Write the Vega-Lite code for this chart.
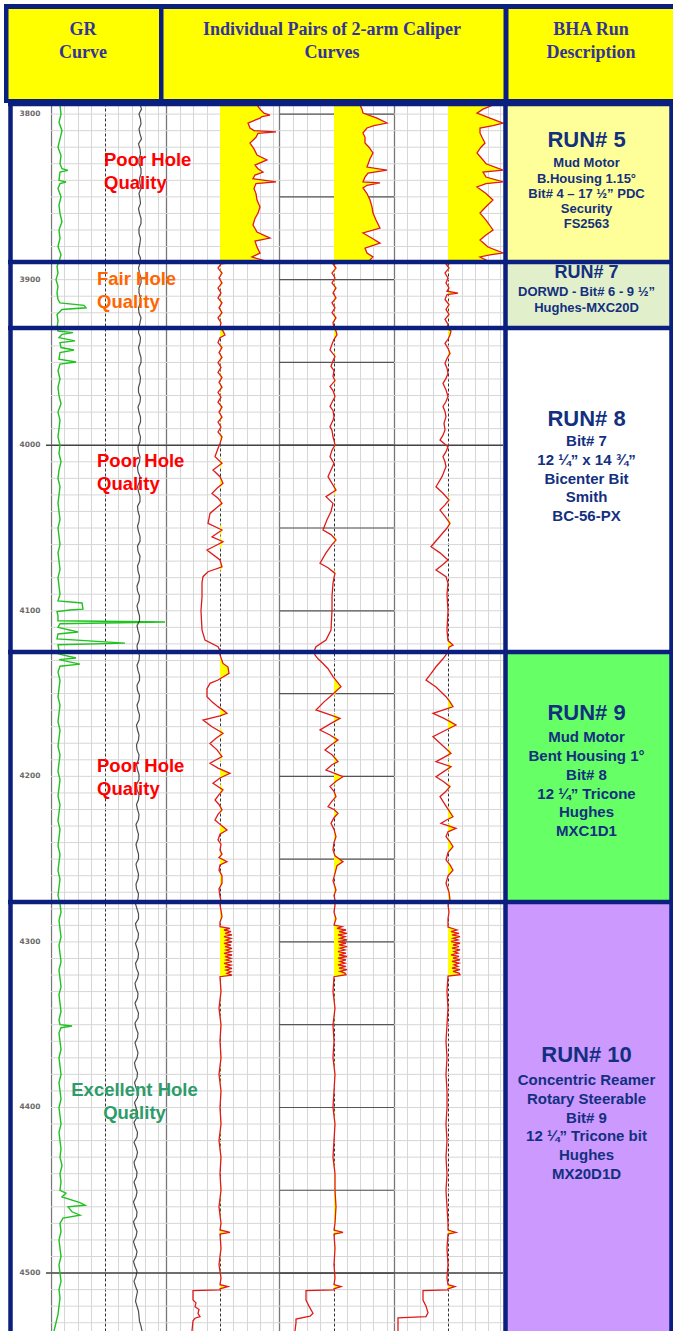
{
  "$schema": "https://vega.github.io/schema/vega-lite/v6.json",
  "padding": 0,
  "spacing": 0,
  "bounds": "flush",
  "background": "#ffffff",
  "config": {"view": {"stroke": null}},
  "datasets": {
    "runs": [
      {"run": "RUN# 5", "top": 3793.3, "bot": 3889.3, "td": 3815.7, "dd": 3829.7, "info": "Mud Motor\nB.Housing 1.15°\nBit# 4 – 17 ½” PDC\nSecurity\nFS2563"},
      {"run": "RUN# 7", "top": 3889.3, "bot": 3929.2, "td": 3895.8, "dd": 3907.7, "info": "DORWD - Bit# 6 - 9 ½”\nHughes-MXC20D"},
      {"run": "RUN# 8", "top": 3929.2, "bot": 4124.9, "td": 3983.9, "dd": 3997.5, "info": "Bit# 7\n12 ¼” x 14 ¾”\nBicenter Bit\nSmith\nBC-56-PX"},
      {"run": "RUN# 9", "top": 4124.9, "bot": 4275.9, "td": 4161.7, "dd": 4176.4, "info": "Mud Motor\nBent Housing 1°\nBit# 8\n12 ¼” Tricone\nHughes\nMXC1D1"},
      {"run": "RUN# 10", "top": 4275.9, "bot": 4535, "td": 4368.3, "dd": 4383.4, "info": "Concentric Reamer\nRotary Steerable\nBit# 9\n12 ¼” Tricone bit\nHughes\nMX20D1D"}
    ],
    "quality": [
      {"run": 5, "q": "Poor", "label": "Poor Hole\nQuality", "d": 3827.7},
      {"run": 7, "q": "Fair", "label": "Fair Hole\nQuality", "d": 3899.6},
      {"run": 8, "q": "Poor", "label": "Poor Hole\nQuality", "d": 4009.5},
      {"run": 9, "q": "Poor", "label": "Poor Hole\nQuality", "d": 4193.8},
      {"run": 10, "q": "Excellent", "label": "Excellent Hole\nQuality", "d": 4389.5}
    ],
    "depths": [{"d": 3800}, {"d": 3900}, {"d": 4000}, {"d": 4100}, {"d": 4200}, {"d": 4300}, {"d": 4400}, {"d": 4500}],
    "ten": [{"d":3800},{"d":3810},{"d":3820},{"d":3830},{"d":3840},{"d":3850},{"d":3860},{"d":3870},{"d":3880},{"d":3890},{"d":3900},{"d":3910},{"d":3920},{"d":3930},{"d":3940},{"d":3950},{"d":3960},{"d":3970},{"d":3980},{"d":3990},{"d":4000},{"d":4010},{"d":4020},{"d":4030},{"d":4040},{"d":4050},{"d":4060},{"d":4070},{"d":4080},{"d":4090},{"d":4100},{"d":4110},{"d":4120},{"d":4130},{"d":4140},{"d":4150},{"d":4160},{"d":4170},{"d":4180},{"d":4190},{"d":4200},{"d":4210},{"d":4220},{"d":4230},{"d":4240},{"d":4250},{"d":4260},{"d":4270},{"d":4280},{"d":4290},{"d":4300},{"d":4310},{"d":4320},{"d":4330},{"d":4340},{"d":4350},{"d":4360},{"d":4370},{"d":4380},{"d":4390},{"d":4400},{"d":4410},{"d":4420},{"d":4430},{"d":4440},{"d":4450},{"d":4460},{"d":4470},{"d":4480},{"d":4490},{"d":4500},{"d":4510},{"d":4520},{"d":4530}],
    "fifty": [{"d": 3800}, {"d": 3850}, {"d": 3900}, {"d": 3950}, {"d": 4000}, {"d": 4050}, {"d": 4100}, {"d": 4150}, {"d": 4200}, {"d": 4250}, {"d": 4300}, {"d": 4350}, {"d": 4400}, {"d": 4450}, {"d": 4500}],
    "heavy": [{"d": 4000}, {"d": 4500}],
    "breaks": [{"d": 3793.9}, {"d": 3889.3}, {"d": 3929.2}, {"d": 4124.9}, {"d": 4275.9}],
    "gr": [
      {"d":3793.5,"g":26},{"d":3794.5,"g":9},{"d":3800,"g":10},{"d":3805,"g":8},{"d":3810,"g":11},{"d":3815,"g":9},{"d":3820,"g":7},{"d":3825,"g":10},{"d":3830,"g":9},{"d":3833,"g":11},{"d":3834,"g":17},{"d":3835,"g":9},{"d":3840,"g":8},{"d":3841,"g":15},{"d":3842,"g":9},{"d":3845,"g":7},{"d":3850,"g":10},{"d":3855,"g":8},{"d":3860,"g":9},{"d":3865,"g":11},{"d":3870,"g":8},{"d":3875,"g":9},{"d":3880,"g":7},{"d":3885,"g":10},{"d":3889,"g":8},
      {"d":3892,"g":6},{"d":3896,"g":7},{"d":3900,"g":5},{"d":3904,"g":7},{"d":3908,"g":6},{"d":3912,"g":7},{"d":3914,"g":9},{"d":3915.5,"g":33},{"d":3917,"g":35},{"d":3918,"g":11},{"d":3921,"g":6},{"d":3925,"g":7},{"d":3929,"g":6},{"d":3931,"g":7},{"d":3932,"g":22},{"d":3933,"g":11},
      {"d":3935,"g":8},{"d":3937,"g":24},{"d":3938,"g":9},{"d":3941,"g":10},{"d":3942.5,"g":23},{"d":3944,"g":9},{"d":3948,"g":8},{"d":3949.7,"g":25},{"d":3951,"g":9},{"d":3955,"g":7},{"d":3960,"g":9},{"d":3965,"g":7},{"d":3970,"g":8},{"d":3975,"g":10},{"d":3980,"g":7},{"d":3985,"g":9},{"d":3990,"g":8},{"d":3995,"g":7},{"d":4000,"g":9},{"d":4005,"g":8},{"d":4010,"g":10},{"d":4015,"g":8},{"d":4020,"g":7},{"d":4025,"g":9},{"d":4030,"g":8},{"d":4035,"g":7},{"d":4040,"g":8},{"d":4045,"g":9},{"d":4050,"g":7},{"d":4055,"g":8},{"d":4060,"g":9},{"d":4065,"g":7},{"d":4070,"g":8},{"d":4075,"g":9},{"d":4080,"g":7},{"d":4085,"g":8},{"d":4090,"g":9},{"d":4094,"g":7},{"d":4095.3,"g":31},{"d":4099,"g":32},{"d":4099.5,"g":19},{"d":4100.5,"g":6},{"d":4103,"g":7},{"d":4106,"g":7},{"d":4106.8,"g":114},{"d":4107.8,"g":9},{"d":4110,"g":7},{"d":4112.8,"g":27},{"d":4114,"g":7},{"d":4117,"g":6},{"d":4119.5,"g":74},{"d":4120.5,"g":7},{"d":4124,"g":8},
      {"d":4126,"g":7},{"d":4128.5,"g":25},{"d":4129.5,"g":8},{"d":4132.2,"g":29},{"d":4133.5,"g":9},{"d":4137,"g":7},{"d":4142,"g":9},{"d":4147,"g":8},{"d":4152,"g":7},{"d":4157,"g":9},{"d":4162,"g":8},{"d":4167,"g":7},{"d":4172,"g":9},{"d":4177,"g":8},{"d":4182,"g":7},{"d":4187,"g":9},{"d":4192,"g":8},{"d":4197,"g":7},{"d":4202,"g":9},{"d":4207,"g":8},{"d":4212,"g":7},{"d":4217,"g":9},{"d":4222,"g":8},{"d":4227,"g":7},{"d":4232,"g":9},{"d":4237,"g":8},{"d":4242,"g":7},{"d":4247,"g":9},{"d":4252,"g":8},{"d":4257,"g":7},{"d":4262,"g":9},{"d":4267,"g":8},{"d":4272,"g":7},
      {"d":4277,"g":9},{"d":4282,"g":10},{"d":4287,"g":8},{"d":4292,"g":9},{"d":4297,"g":10},{"d":4302,"g":8},{"d":4307,"g":9},{"d":4312,"g":10},{"d":4317,"g":8},{"d":4322,"g":9},{"d":4327,"g":10},{"d":4332,"g":8},{"d":4337,"g":9},{"d":4342,"g":10},{"d":4347,"g":8},{"d":4350,"g":9},{"d":4350.8,"g":21},{"d":4351.8,"g":10},{"d":4355,"g":8},{"d":4360,"g":9},{"d":4365,"g":10},{"d":4370,"g":8},{"d":4375,"g":9},{"d":4380,"g":10},{"d":4385,"g":8},{"d":4390,"g":9},{"d":4395,"g":10},{"d":4400,"g":8},{"d":4405,"g":9},{"d":4410,"g":10},{"d":4415,"g":8},{"d":4420,"g":9},{"d":4425,"g":10},{"d":4430,"g":9},{"d":4435,"g":11},{"d":4440,"g":9},{"d":4445,"g":10},{"d":4450,"g":9},{"d":4451.7,"g":15},{"d":4454,"g":11},{"d":4457.5,"g":29},{"d":4459,"g":34},{"d":4460,"g":17},{"d":4463,"g":21},{"d":4465,"g":29},{"d":4466.8,"g":12},{"d":4470,"g":9},{"d":4475,"g":10},{"d":4480,"g":8},{"d":4485,"g":9},{"d":4490,"g":10},{"d":4495,"g":8},{"d":4500,"g":9},{"d":4505,"g":10},{"d":4510,"g":8},{"d":4515,"g":9},{"d":4520,"g":8},{"d":4525,"g":7},{"d":4530,"g":5},{"d":4535,"g":3}
    ],
    "aux": [
      {"d":3794,"v":89},{"d":3797,"v":90.5},{"d":3800,"v":88},{"d":3803,"v":89.5},{"d":3806,"v":90},{"d":3809,"v":88},{"d":3812,"v":89},{"d":3815,"v":90.5},{"d":3818,"v":87.5},{"d":3821,"v":89},{"d":3824,"v":89.5},{"d":3827,"v":88},{"d":3830,"v":88},{"d":3833,"v":90},{"d":3836,"v":90},{"d":3839,"v":88.5},{"d":3842,"v":89},{"d":3845,"v":90},{"d":3848,"v":88},{"d":3851,"v":89},{"d":3854,"v":89.5},{"d":3857,"v":87.5},{"d":3860,"v":88.5},{"d":3863,"v":90},{"d":3866,"v":90},{"d":3869,"v":88},{"d":3872,"v":88},{"d":3875,"v":89.5},{"d":3878,"v":89},{"d":3881,"v":88},{"d":3884,"v":87.5},{"d":3887,"v":89.5},{"d":3890,"v":89},{"d":3893,"v":87.5},{"d":3896,"v":88.5},{"d":3899,"v":90},{"d":3902,"v":90},{"d":3905,"v":88},{"d":3908,"v":88},{"d":3911,"v":89.5},{"d":3914,"v":89.5},{"d":3917,"v":87.5},{"d":3920,"v":88},{"d":3923,"v":90},{"d":3926,"v":89},{"d":3929,"v":88},{"d":3932,"v":87.5},{"d":3935,"v":89.5},{"d":3938,"v":89},{"d":3941,"v":87.5},{"d":3944,"v":88.5},{"d":3947,"v":90},{"d":3950,"v":90},{"d":3953,"v":88},{"d":3956,"v":88},{"d":3959,"v":89.5},{"d":3962,"v":89},{"d":3965,"v":87.5},{"d":3968,"v":87.5},{"d":3971,"v":89.5},{"d":3974,"v":89},{"d":3977,"v":87},{"d":3980,"v":88},{"d":3983,"v":89.5},{"d":3986,"v":89.5},{"d":3989,"v":87.5},{"d":3992,"v":88},{"d":3995,"v":89.5},{"d":3998,"v":89},{"d":4001,"v":87},{"d":4004,"v":87.5},{"d":4007,"v":89},{"d":4010,"v":88.5},{"d":4013,"v":86.5},{"d":4016,"v":87},{"d":4019,"v":89},{"d":4022,"v":88.5},{"d":4025,"v":86.5},{"d":4028,"v":87.5},{"d":4031,"v":89},{"d":4034,"v":89},{"d":4037,"v":86.5},{"d":4040,"v":87},{"d":4043,"v":88.5},{"d":4046,"v":88},{"d":4049,"v":86.5},{"d":4052,"v":87.5},{"d":4055,"v":89},{"d":4058,"v":89},{"d":4061,"v":86.5},{"d":4064,"v":87},{"d":4067,"v":89},{"d":4070,"v":88.5},{"d":4073,"v":86.5},{"d":4076,"v":87},{"d":4079,"v":88.5},{"d":4082,"v":88},{"d":4085,"v":86},{"d":4088,"v":86.5},{"d":4091,"v":88.5},{"d":4094,"v":88},{"d":4097,"v":86},{"d":4100,"v":87},{"d":4103,"v":88.5},{"d":4106,"v":88.5},{"d":4109,"v":86},{"d":4112,"v":87},{"d":4115,"v":88.5},{"d":4118,"v":88},{"d":4121,"v":86},{"d":4124,"v":86.5},{"d":4127,"v":88.5},{"d":4130,"v":88},{"d":4133,"v":86},{"d":4136,"v":87},{"d":4139,"v":88.5},{"d":4142,"v":88.5},{"d":4145,"v":86},{"d":4148,"v":86.5},{"d":4151,"v":88.5},{"d":4154,"v":88},{"d":4157,"v":86},{"d":4160,"v":87},{"d":4163,"v":88.5},{"d":4166,"v":88},{"d":4169,"v":85.5},{"d":4172,"v":86.5},{"d":4175,"v":88},{"d":4178,"v":87.5},{"d":4181,"v":85.5},{"d":4184,"v":86},{"d":4187,"v":88},{"d":4190,"v":87.5},{"d":4193,"v":85.5},{"d":4196,"v":86.5},{"d":4199,"v":88},{"d":4202,"v":88},{"d":4205,"v":85.5},{"d":4208,"v":86},{"d":4211,"v":88},{"d":4214,"v":87.5},{"d":4217,"v":85.5},{"d":4220,"v":86.5},{"d":4223,"v":88},{"d":4226,"v":87.5},{"d":4229,"v":85},{"d":4232,"v":86},{"d":4235,"v":87.5},{"d":4238,"v":87},{"d":4241,"v":85},{"d":4244,"v":86},{"d":4247,"v":87.5},{"d":4250,"v":87.5},{"d":4253,"v":85},{"d":4256,"v":86},{"d":4259,"v":87.5},{"d":4262,"v":87},{"d":4265,"v":85},{"d":4268,"v":85.5},{"d":4271,"v":87.5},{"d":4274,"v":87},{"d":4277,"v":84.5},{"d":4280,"v":86},{"d":4283,"v":87.5},{"d":4286,"v":87.5},{"d":4289,"v":84.5},{"d":4292,"v":85.5},{"d":4295,"v":87.5},{"d":4298,"v":87},{"d":4301,"v":84.5},{"d":4304,"v":86},{"d":4307,"v":87.5},{"d":4310,"v":87},{"d":4313,"v":84.5},{"d":4316,"v":85.5},{"d":4319,"v":87.5},{"d":4322,"v":86.5},{"d":4325,"v":84},{"d":4328,"v":85},{"d":4331,"v":87},{"d":4334,"v":86.5},{"d":4337,"v":84},{"d":4340,"v":85.5},{"d":4343,"v":87.5},{"d":4346,"v":87},{"d":4349,"v":84},{"d":4352,"v":85},{"d":4355,"v":87},{"d":4358,"v":86.5},{"d":4361,"v":84},{"d":4364,"v":85.5},{"d":4367,"v":87},{"d":4370,"v":86},{"d":4373,"v":83.5},{"d":4376,"v":84.5},{"d":4379,"v":86.5},{"d":4382,"v":86},{"d":4385,"v":83.5},{"d":4388,"v":85},{"d":4391,"v":87},{"d":4394,"v":86.5},{"d":4397,"v":83.5},{"d":4400,"v":85},{"d":4403,"v":86.5},{"d":4406,"v":86},{"d":4409,"v":83},{"d":4412,"v":84.5},{"d":4415,"v":86.5},{"d":4418,"v":86},{"d":4421,"v":83},{"d":4424,"v":85},{"d":4427,"v":86.5},{"d":4430,"v":85.5},{"d":4433,"v":83},{"d":4436,"v":84},{"d":4439,"v":86},{"d":4442,"v":85.5},{"d":4445,"v":83},{"d":4448,"v":84.5},{"d":4451,"v":86},{"d":4454,"v":85},{"d":4457,"v":82.5},{"d":4460,"v":84},{"d":4463,"v":86},{"d":4466,"v":85.5},{"d":4469,"v":82.5},{"d":4472,"v":84},{"d":4475,"v":86},{"d":4478,"v":85},{"d":4481,"v":82.5},{"d":4484,"v":84},{"d":4487,"v":86},{"d":4490,"v":85},{"d":4493,"v":82.5},{"d":4496,"v":84},{"d":4499,"v":86},{"d":4502,"v":85},{"d":4505,"v":83},{"d":4508,"v":84.5},{"d":4511,"v":86.5},{"d":4514,"v":85.5},{"d":4517,"v":84.5},{"d":4520,"v":86},{"d":4523,"v":87.5},{"d":4526,"v":88},{"d":4529,"v":88.5},{"d":4532,"v":90},{"d":4535,"v":91}
    ],
    "cal": [
      {"t":1,"d":3793.3,"c":37},{"t":1,"d":3794.5,"c":37},{"t":1,"d":3797,"c":40},{"t":1,"d":3799.4,"c":44},{"t":1,"d":3800.6,"c":50},{"t":1,"d":3801.5,"c":42},{"t":1,"d":3802.4,"c":40},{"t":1,"d":3805.4,"c":28},{"t":1,"d":3808.4,"c":30},{"t":1,"d":3810,"c":34},{"t":1,"d":3810.8,"c":56},{"t":1,"d":3811.6,"c":38},{"t":1,"d":3814,"c":36},{"t":1,"d":3817.5,"c":30},{"t":1,"d":3821,"c":34},{"t":1,"d":3824.7,"c":37},{"t":1,"d":3827.7,"c":47},{"t":1,"d":3830.8,"c":35},{"t":1,"d":3833,"c":38},{"t":1,"d":3835,"c":43},{"t":1,"d":3836.8,"c":35},{"t":1,"d":3839,"c":33},{"t":1,"d":3841,"c":56},{"t":1,"d":3842,"c":36},{"t":1,"d":3845,"c":34},{"t":1,"d":3848,"c":36},{"t":1,"d":3851.9,"c":37},{"t":1,"d":3856.1,"c":40},{"t":1,"d":3859.8,"c":38},{"t":1,"d":3863,"c":35},{"t":1,"d":3867,"c":33},{"t":1,"d":3871.2,"c":37},{"t":1,"d":3874.9,"c":50},{"t":1,"d":3876.7,"c":35},{"t":1,"d":3880.3,"c":37},{"t":1,"d":3884,"c":40},{"t":1,"d":3886.3,"c":32},{"t":1,"d":3888.7,"c":45},{"t":1,"d":3889.3,"c":20},
      {"t":1,"d":3890.5,"c":1},{"t":1,"d":3893,"c":-2},{"t":1,"d":3896,"c":2},{"t":1,"d":3899,"c":-1},{"t":1,"d":3902,"c":2},{"t":1,"d":3905,"c":-2},{"t":1,"d":3908,"c":1},{"t":1,"d":3911,"c":-2},{"t":1,"d":3914,"c":2},{"t":1,"d":3917,"c":-1},{"t":1,"d":3920,"c":2},{"t":1,"d":3923,"c":-2},{"t":1,"d":3926,"c":1},{"t":1,"d":3929,"c":0},
      {"t":1,"d":3931,"c":3},{"t":1,"d":3933.4,"c":5},{"t":1,"d":3935,"c":0},{"t":1,"d":3938,"c":-2},{"t":1,"d":3941,"c":2},{"t":1,"d":3944,"c":-1},{"t":1,"d":3947,"c":2},{"t":1,"d":3950,"c":-2},{"t":1,"d":3953,"c":1},{"t":1,"d":3956,"c":-2},{"t":1,"d":3959,"c":2},{"t":1,"d":3962,"c":-1},{"t":1,"d":3965,"c":2},{"t":1,"d":3968,"c":-2},{"t":1,"d":3971,"c":1},{"t":1,"d":3974,"c":-2},{"t":1,"d":3977,"c":2},{"t":1,"d":3980,"c":-1},{"t":1,"d":3983,"c":2},{"t":1,"d":3986,"c":-2},{"t":1,"d":3989,"c":1},{"t":1,"d":3992,"c":-2},{"t":1,"d":3995,"c":2},{"t":1,"d":3998.9,"c":0},{"t":1,"d":4002,"c":-2},{"t":1,"d":4006.9,"c":-5},{"t":1,"d":4010.9,"c":2},{"t":1,"d":4015,"c":-7},{"t":1,"d":4019,"c":0},{"t":1,"d":4023,"c":3},{"t":1,"d":4026,"c":-3},{"t":1,"d":4029.1,"c":-8},{"t":1,"d":4032,"c":-2},{"t":1,"d":4035.1,"c":2},{"t":1,"d":4038,"c":-4},{"t":1,"d":4041.2,"c":-10},{"t":1,"d":4047.2,"c":-12},{"t":1,"d":4051.2,"c":2},{"t":1,"d":4055.3,"c":-8},{"t":1,"d":4058.3,"c":3},{"t":1,"d":4063.3,"c":-13},{"t":1,"d":4069.3,"c":0},{"t":1,"d":4073.4,"c":2},{"t":1,"d":4076.4,"c":-12},{"t":1,"d":4079.4,"c":-17},{"t":1,"d":4083,"c":-18},{"t":1,"d":4091.5,"c":-18},{"t":1,"d":4100,"c":-19},{"t":1,"d":4111.6,"c":-18},{"t":1,"d":4117.7,"c":-15},{"t":1,"d":4121.7,"c":-2},{"t":1,"d":4124,"c":0},
      {"t":1,"d":4126.7,"c":0},{"t":1,"d":4131.8,"c":3},{"t":1,"d":4134,"c":8},{"t":1,"d":4137.8,"c":9},{"t":1,"d":4140,"c":3},{"t":1,"d":4141.8,"c":-2},{"t":1,"d":4143.8,"c":-10},{"t":1,"d":4147,"c":-13},{"t":1,"d":4151.9,"c":-13},{"t":1,"d":4155,"c":-8},{"t":1,"d":4157.9,"c":-2},{"t":1,"d":4160,"c":3},{"t":1,"d":4161.9,"c":7},{"t":1,"d":4163.5,"c":0},{"t":1,"d":4166,"c":-17},{"t":1,"d":4170,"c":-8},{"t":1,"d":4174,"c":3},{"t":1,"d":4177,"c":-4},{"t":1,"d":4180.1,"c":-10},{"t":1,"d":4184,"c":-3},{"t":1,"d":4188.1,"c":2},{"t":1,"d":4192.1,"c":-10},{"t":1,"d":4195,"c":-2},{"t":1,"d":4198.2,"c":10},{"t":1,"d":4201,"c":0},{"t":1,"d":4204.2,"c":-7},{"t":1,"d":4208.2,"c":3},{"t":1,"d":4211,"c":-1},{"t":1,"d":4214.3,"c":-5},{"t":1,"d":4217,"c":-1},{"t":1,"d":4220.3,"c":2},{"t":1,"d":4223,"c":-2},{"t":1,"d":4226.4,"c":-5},{"t":1,"d":4229,"c":0},{"t":1,"d":4232.4,"c":7},{"t":1,"d":4235,"c":0},{"t":1,"d":4238.4,"c":-2},{"t":1,"d":4241,"c":1},{"t":1,"d":4244.5,"c":0},{"t":1,"d":4247,"c":2},{"t":1,"d":4249,"c":-1},{"t":1,"d":4251.5,"c":7},{"t":1,"d":4253.5,"c":0},{"t":1,"d":4256.6,"c":-1},{"t":1,"d":4260,"c":2},{"t":1,"d":4264.6,"c":2},{"t":1,"d":4268,"c":-1},{"t":1,"d":4272.7,"c":0},{"t":1,"d":4275,"c":1},
      {"t":1,"d":4277.7,"c":0},{"t":1,"d":4281,"c":1},{"t":1,"d":4284.8,"c":2},{"t":1,"d":4288,"c":0},{"t":1,"d":4290.8,"c":0},{"t":1,"d":4291.8,"c":10},{"t":1,"d":4292.8,"c":4},{"t":1,"d":4293.8,"c":11},{"t":1,"d":4294.8,"c":5},{"t":1,"d":4295.8,"c":12},{"t":1,"d":4296.8,"c":4},{"t":1,"d":4297.9,"c":11},{"t":1,"d":4298.9,"c":6},{"t":1,"d":4299.9,"c":12},{"t":1,"d":4300.9,"c":4},{"t":1,"d":4301.9,"c":11},{"t":1,"d":4302.9,"c":5},{"t":1,"d":4303.9,"c":12},{"t":1,"d":4304.9,"c":6},{"t":1,"d":4305.9,"c":11},{"t":1,"d":4306.9,"c":4},{"t":1,"d":4307.9,"c":12},{"t":1,"d":4308.9,"c":5},{"t":1,"d":4309.9,"c":11},{"t":1,"d":4310.9,"c":6},{"t":1,"d":4311.9,"c":12},{"t":1,"d":4312.9,"c":4},{"t":1,"d":4314,"c":11},{"t":1,"d":4315,"c":5},{"t":1,"d":4316,"c":12},{"t":1,"d":4317,"c":6},{"t":1,"d":4318,"c":11},{"t":1,"d":4319,"c":7},{"t":1,"d":4320,"c":12},{"t":1,"d":4321,"c":0},{"t":1,"d":4330,"c":1},{"t":1,"d":4340,"c":-1},{"t":1,"d":4350,"c":1},{"t":1,"d":4360,"c":0},{"t":1,"d":4370,"c":1},{"t":1,"d":4380,"c":-1},{"t":1,"d":4390,"c":1},{"t":1,"d":4400,"c":0},{"t":1,"d":4410,"c":1},{"t":1,"d":4420,"c":-1},{"t":1,"d":4430,"c":1},{"t":1,"d":4440,"c":0},{"t":1,"d":4450,"c":1},{"t":1,"d":4460,"c":-1},{"t":1,"d":4470,"c":1},{"t":1,"d":4474,"c":0},{"t":1,"d":4475.4,"c":10},{"t":1,"d":4476.5,"c":0},{"t":1,"d":4485,"c":1},{"t":1,"d":4495,"c":-1},{"t":1,"d":4503,"c":1},{"t":1,"d":4507,"c":0},{"t":1,"d":4508.2,"c":8},{"t":1,"d":4509.5,"c":0},{"t":1,"d":4510.2,"c":0},{"t":1,"d":4510.6,"c":-27},{"t":1,"d":4513,"c":-27},{"t":1,"d":4516.3,"c":-27},{"t":1,"d":4518,"c":-24},{"t":1,"d":4520.3,"c":-25},{"t":1,"d":4522,"c":-21},{"t":1,"d":4524.3,"c":-22},{"t":1,"d":4526.3,"c":-20},{"t":1,"d":4527.3,"c":-25},{"t":1,"d":4528.8,"c":-27},{"t":1,"d":4535,"c":-28},

      {"t":2,"d":3793.3,"c":26},{"t":2,"d":3794.5,"c":26},{"t":2,"d":3797,"c":28},{"t":2,"d":3799.4,"c":29},{"t":2,"d":3802.4,"c":43},{"t":2,"d":3805.4,"c":53},{"t":2,"d":3807,"c":40},{"t":2,"d":3808.4,"c":33},{"t":2,"d":3811.4,"c":29},{"t":2,"d":3814,"c":31},{"t":2,"d":3817.5,"c":31},{"t":2,"d":3820,"c":35},{"t":2,"d":3823.5,"c":39},{"t":2,"d":3827,"c":36},{"t":2,"d":3832,"c":33},{"t":2,"d":3833.8,"c":53},{"t":2,"d":3835.6,"c":34},{"t":2,"d":3838,"c":31},{"t":2,"d":3841,"c":29},{"t":2,"d":3841.6,"c":46},{"t":2,"d":3843,"c":33},{"t":2,"d":3844.6,"c":29},{"t":2,"d":3848,"c":33},{"t":2,"d":3851.9,"c":36},{"t":2,"d":3856,"c":38},{"t":2,"d":3859.8,"c":39},{"t":2,"d":3864,"c":42},{"t":2,"d":3868.8,"c":46},{"t":2,"d":3871.8,"c":29},{"t":2,"d":3875,"c":38},{"t":2,"d":3877.9,"c":46},{"t":2,"d":3880.9,"c":31},{"t":2,"d":3883.9,"c":33},{"t":2,"d":3886.3,"c":39},{"t":2,"d":3888.7,"c":35},{"t":2,"d":3889.3,"c":20},
      {"t":2,"d":3890.5,"c":-1},{"t":2,"d":3893,"c":2},{"t":2,"d":3896,"c":-2},{"t":2,"d":3899,"c":1},{"t":2,"d":3902,"c":-2},{"t":2,"d":3905,"c":2},{"t":2,"d":3908,"c":-1},{"t":2,"d":3911,"c":2},{"t":2,"d":3914,"c":-2},{"t":2,"d":3917,"c":1},{"t":2,"d":3920,"c":-2},{"t":2,"d":3923,"c":2},{"t":2,"d":3926,"c":-1},{"t":2,"d":3929,"c":0},
      {"t":2,"d":3931,"c":2},{"t":2,"d":3933.4,"c":3},{"t":2,"d":3936,"c":0},{"t":2,"d":3939,"c":-2},{"t":2,"d":3942.4,"c":-4},{"t":2,"d":3946.4,"c":1},{"t":2,"d":3949,"c":-1},{"t":2,"d":3952.4,"c":-3},{"t":2,"d":3955,"c":0},{"t":2,"d":3958.5,"c":-1},{"t":2,"d":3961,"c":1},{"t":2,"d":3964.5,"c":-4},{"t":2,"d":3967,"c":-1},{"t":2,"d":3970.6,"c":1},{"t":2,"d":3973,"c":-1},{"t":2,"d":3976.6,"c":-4},{"t":2,"d":3979,"c":-1},{"t":2,"d":3982.7,"c":0},{"t":2,"d":3985,"c":-1},{"t":2,"d":3988.8,"c":-4},{"t":2,"d":3991,"c":-2},{"t":2,"d":3994.9,"c":-1},{"t":2,"d":3997,"c":0},{"t":2,"d":3999.9,"c":1},{"t":2,"d":4003,"c":-2},{"t":2,"d":4006.9,"c":-4},{"t":2,"d":4010.9,"c":0},{"t":2,"d":4015,"c":-3},{"t":2,"d":4019,"c":-6},{"t":2,"d":4023,"c":-2},{"t":2,"d":4027.1,"c":2},{"t":2,"d":4031.1,"c":-8},{"t":2,"d":4035.1,"c":-1},{"t":2,"d":4040,"c":-3},{"t":2,"d":4045,"c":-7},{"t":2,"d":4051.2,"c":-11},{"t":2,"d":4054,"c":-3},{"t":2,"d":4057.3,"c":2},{"t":2,"d":4060,"c":-2},{"t":2,"d":4065,"c":-8},{"t":2,"d":4071.3,"c":-14},{"t":2,"d":4074,"c":-6},{"t":2,"d":4077.4,"c":1},{"t":2,"d":4080,"c":0},{"t":2,"d":4083.4,"c":-1},{"t":2,"d":4091.5,"c":-2},{"t":2,"d":4100,"c":-2},{"t":2,"d":4111.6,"c":-3},{"t":2,"d":4117.7,"c":-8},{"t":2,"d":4121.7,"c":-18},{"t":2,"d":4124.5,"c":-20},
      {"t":2,"d":4126.7,"c":-19},{"t":2,"d":4129,"c":-16},{"t":2,"d":4131.8,"c":-11},{"t":2,"d":4135,"c":-6},{"t":2,"d":4139.8,"c":-1},{"t":2,"d":4142,"c":2},{"t":2,"d":4145.8,"c":7},{"t":2,"d":4148,"c":3},{"t":2,"d":4151.9,"c":-4},{"t":2,"d":4155,"c":-10},{"t":2,"d":4159.9,"c":-18},{"t":2,"d":4162,"c":-8},{"t":2,"d":4165,"c":6},{"t":2,"d":4168,"c":-3},{"t":2,"d":4172,"c":-14},{"t":2,"d":4175,"c":-4},{"t":2,"d":4178.1,"c":4},{"t":2,"d":4181,"c":-3},{"t":2,"d":4184.1,"c":-9},{"t":2,"d":4187,"c":-2},{"t":2,"d":4191.1,"c":4},{"t":2,"d":4193,"c":-2},{"t":2,"d":4196.2,"c":-8},{"t":2,"d":4198,"c":0},{"t":2,"d":4200.2,"c":9},{"t":2,"d":4203,"c":2},{"t":2,"d":4206.2,"c":-4},{"t":2,"d":4209,"c":0},{"t":2,"d":4212.3,"c":2},{"t":2,"d":4215,"c":-2},{"t":2,"d":4218.3,"c":-6},{"t":2,"d":4220,"c":0},{"t":2,"d":4222.3,"c":4},{"t":2,"d":4225,"c":0},{"t":2,"d":4228.4,"c":-3},{"t":2,"d":4232,"c":0},{"t":2,"d":4236.4,"c":2},{"t":2,"d":4240,"c":0},{"t":2,"d":4244.5,"c":-1},{"t":2,"d":4248,"c":1},{"t":2,"d":4251.5,"c":9},{"t":2,"d":4254,"c":3},{"t":2,"d":4258.6,"c":1},{"t":2,"d":4263,"c":-1},{"t":2,"d":4268.6,"c":2},{"t":2,"d":4272,"c":0},{"t":2,"d":4274.7,"c":1},
      {"t":2,"d":4277.7,"c":1},{"t":2,"d":4282,"c":0},{"t":2,"d":4286,"c":2},{"t":2,"d":4289.8,"c":0},{"t":2,"d":4290.8,"c":8},{"t":2,"d":4291.8,"c":3},{"t":2,"d":4292.8,"c":12},{"t":2,"d":4293.8,"c":5},{"t":2,"d":4294.8,"c":13},{"t":2,"d":4295.8,"c":4},{"t":2,"d":4296.8,"c":11},{"t":2,"d":4297.8,"c":6},{"t":2,"d":4298.8,"c":13},{"t":2,"d":4299.8,"c":4},{"t":2,"d":4300.8,"c":12},{"t":2,"d":4301.8,"c":5},{"t":2,"d":4302.8,"c":13},{"t":2,"d":4303.8,"c":6},{"t":2,"d":4304.8,"c":11},{"t":2,"d":4305.8,"c":4},{"t":2,"d":4306.8,"c":12},{"t":2,"d":4307.8,"c":5},{"t":2,"d":4308.8,"c":13},{"t":2,"d":4309.8,"c":4},{"t":2,"d":4310.8,"c":12},{"t":2,"d":4311.8,"c":6},{"t":2,"d":4312.8,"c":11},{"t":2,"d":4313.8,"c":4},{"t":2,"d":4314.8,"c":12},{"t":2,"d":4315.8,"c":5},{"t":2,"d":4316.8,"c":13},{"t":2,"d":4317.8,"c":6},{"t":2,"d":4318.8,"c":11},{"t":2,"d":4319.8,"c":12},{"t":2,"d":4321,"c":0},{"t":2,"d":4330,"c":-1},{"t":2,"d":4340,"c":1},{"t":2,"d":4350,"c":-1},{"t":2,"d":4360,"c":0},{"t":2,"d":4370,"c":-1},{"t":2,"d":4380,"c":1},{"t":2,"d":4390,"c":0},{"t":2,"d":4400,"c":-1},{"t":2,"d":4410,"c":1},{"t":2,"d":4420,"c":0},{"t":2,"d":4430,"c":-1},{"t":2,"d":4440,"c":1},{"t":2,"d":4450,"c":1},{"t":2,"d":4460,"c":2},{"t":2,"d":4470,"c":1},{"t":2,"d":4474,"c":0},{"t":2,"d":4475.4,"c":9},{"t":2,"d":4476.5,"c":0},{"t":2,"d":4485,"c":1},{"t":2,"d":4495,"c":0},{"t":2,"d":4503,"c":1},{"t":2,"d":4507,"c":0},{"t":2,"d":4508.2,"c":7},{"t":2,"d":4509.5,"c":0},{"t":2,"d":4510.2,"c":0},{"t":2,"d":4510.6,"c":-28},{"t":2,"d":4516.3,"c":-28},{"t":2,"d":4520,"c":-25},{"t":2,"d":4524.3,"c":-21},{"t":2,"d":4526,"c":-24},{"t":2,"d":4527.8,"c":-38},{"t":2,"d":4530,"c":-38},{"t":2,"d":4535,"c":-39},

      {"t":3,"d":3793.3,"c":45},{"t":3,"d":3794.5,"c":45},{"t":3,"d":3797,"c":35},{"t":3,"d":3799.4,"c":29},{"t":3,"d":3802.4,"c":42},{"t":3,"d":3805.4,"c":55},{"t":3,"d":3807,"c":45},{"t":3,"d":3808.4,"c":32},{"t":3,"d":3811.4,"c":32},{"t":3,"d":3814,"c":34},{"t":3,"d":3817.5,"c":37},{"t":3,"d":3820,"c":33},{"t":3,"d":3823.5,"c":29},{"t":3,"d":3827.7,"c":35},{"t":3,"d":3830,"c":38},{"t":3,"d":3833.8,"c":55},{"t":3,"d":3835,"c":35},{"t":3,"d":3838,"c":38},{"t":3,"d":3841,"c":55},{"t":3,"d":3842,"c":38},{"t":3,"d":3844,"c":29},{"t":3,"d":3848,"c":38},{"t":3,"d":3851.9,"c":45},{"t":3,"d":3856,"c":38},{"t":3,"d":3859.8,"c":32},{"t":3,"d":3864,"c":38},{"t":3,"d":3870,"c":45},{"t":3,"d":3873,"c":38},{"t":3,"d":3876.1,"c":32},{"t":3,"d":3880.3,"c":40},{"t":3,"d":3883.9,"c":55},{"t":3,"d":3885,"c":42},{"t":3,"d":3886.3,"c":32},{"t":3,"d":3888.7,"c":40},{"t":3,"d":3889.3,"c":20},
      {"t":3,"d":3890.5,"c":-2},{"t":3,"d":3893,"c":1},{"t":3,"d":3896,"c":-3},{"t":3,"d":3899,"c":0},{"t":3,"d":3902,"c":-2},{"t":3,"d":3905,"c":1},{"t":3,"d":3907,"c":-1},{"t":3,"d":3908.1,"c":10},{"t":3,"d":3909,"c":-1},{"t":3,"d":3912,"c":-3},{"t":3,"d":3915,"c":1},{"t":3,"d":3918,"c":-2},{"t":3,"d":3921,"c":1},{"t":3,"d":3924,"c":-3},{"t":3,"d":3927,"c":0},{"t":3,"d":3929,"c":-1},
      {"t":3,"d":3931,"c":3},{"t":3,"d":3933.4,"c":2},{"t":3,"d":3936,"c":0},{"t":3,"d":3938.5,"c":-3},{"t":3,"d":3941.5,"c":0},{"t":3,"d":3944.5,"c":2},{"t":3,"d":3947.5,"c":-1},{"t":3,"d":3950.5,"c":-3},{"t":3,"d":3953.5,"c":-1},{"t":3,"d":3956.6,"c":0},{"t":3,"d":3959.6,"c":-2},{"t":3,"d":3962.6,"c":-5},{"t":3,"d":3966.6,"c":-2},{"t":3,"d":3970.6,"c":0},{"t":3,"d":3973.6,"c":-2},{"t":3,"d":3976.6,"c":-5},{"t":3,"d":3979.6,"c":-3},{"t":3,"d":3982.7,"c":-2},{"t":3,"d":3986.7,"c":-4},{"t":3,"d":3990.8,"c":-3},{"t":3,"d":3993.9,"c":-5},{"t":3,"d":3996.9,"c":-8},{"t":3,"d":4000.9,"c":0},{"t":3,"d":4003.9,"c":-2},{"t":3,"d":4006.9,"c":-5},{"t":3,"d":4010,"c":-3},{"t":3,"d":4013,"c":-2},{"t":3,"d":4019,"c":-6},{"t":3,"d":4025.1,"c":-12},{"t":3,"d":4029,"c":-5},{"t":3,"d":4033.1,"c":1},{"t":3,"d":4036,"c":-3},{"t":3,"d":4039.2,"c":-8},{"t":3,"d":4043,"c":-3},{"t":3,"d":4047.2,"c":2},{"t":3,"d":4050,"c":-1},{"t":3,"d":4055,"c":-8},{"t":3,"d":4061.3,"c":-17},{"t":3,"d":4065,"c":-8},{"t":3,"d":4069.3,"c":0},{"t":3,"d":4072,"c":-5},{"t":3,"d":4075.4,"c":-12},{"t":3,"d":4079.4,"c":-2},{"t":3,"d":4083.4,"c":0},{"t":3,"d":4090,"c":-1},{"t":3,"d":4100,"c":0},{"t":3,"d":4111.6,"c":-1},{"t":3,"d":4118,"c":0},{"t":3,"d":4120.7,"c":5},{"t":3,"d":4122,"c":1},{"t":3,"d":4124.5,"c":0},
      {"t":3,"d":4126.7,"c":-2},{"t":3,"d":4129,"c":-5},{"t":3,"d":4133.8,"c":-12},{"t":3,"d":4138,"c":-17},{"t":3,"d":4141.8,"c":-22},{"t":3,"d":4146,"c":-12},{"t":3,"d":4151.9,"c":-2},{"t":3,"d":4155,"c":2},{"t":3,"d":4157.9,"c":5},{"t":3,"d":4159.5,"c":-3},{"t":3,"d":4161.9,"c":-15},{"t":3,"d":4165,"c":-4},{"t":3,"d":4169,"c":8},{"t":3,"d":4172,"c":-2},{"t":3,"d":4176,"c":-15},{"t":3,"d":4181,"c":-6},{"t":3,"d":4186.1,"c":3},{"t":3,"d":4188.5,"c":-4},{"t":3,"d":4191.1,"c":-12},{"t":3,"d":4194.2,"c":3},{"t":3,"d":4197,"c":-4},{"t":3,"d":4200.2,"c":-12},{"t":3,"d":4203,"c":-5},{"t":3,"d":4206.2,"c":2},{"t":3,"d":4209,"c":-2},{"t":3,"d":4212.3,"c":-8},{"t":3,"d":4218,"c":-2},{"t":3,"d":4224.4,"c":5},{"t":3,"d":4226.5,"c":-2},{"t":3,"d":4228.4,"c":-7},{"t":3,"d":4231.4,"c":8},{"t":3,"d":4233.5,"c":0},{"t":3,"d":4236.4,"c":-2},{"t":3,"d":4239.5,"c":2},{"t":3,"d":4242.5,"c":5},{"t":3,"d":4246,"c":0},{"t":3,"d":4250.5,"c":-2},{"t":3,"d":4253.5,"c":2},{"t":3,"d":4256.6,"c":5},{"t":3,"d":4260,"c":0},{"t":3,"d":4264.6,"c":-2},{"t":3,"d":4270,"c":1},{"t":3,"d":4274.7,"c":2},
      {"t":3,"d":4277.7,"c":0},{"t":3,"d":4282,"c":1},{"t":3,"d":4286,"c":0},{"t":3,"d":4291,"c":0},{"t":3,"d":4292.8,"c":9},{"t":3,"d":4293.8,"c":3},{"t":3,"d":4294.8,"c":11},{"t":3,"d":4295.8,"c":4},{"t":3,"d":4296.8,"c":12},{"t":3,"d":4297.8,"c":5},{"t":3,"d":4298.8,"c":10},{"t":3,"d":4299.8,"c":3},{"t":3,"d":4300.8,"c":12},{"t":3,"d":4301.8,"c":5},{"t":3,"d":4302.8,"c":11},{"t":3,"d":4303.8,"c":4},{"t":3,"d":4304.8,"c":12},{"t":3,"d":4305.8,"c":6},{"t":3,"d":4306.8,"c":10},{"t":3,"d":4307.8,"c":3},{"t":3,"d":4308.8,"c":11},{"t":3,"d":4309.8,"c":5},{"t":3,"d":4310.8,"c":12},{"t":3,"d":4311.8,"c":4},{"t":3,"d":4312.8,"c":11},{"t":3,"d":4313.8,"c":6},{"t":3,"d":4314.8,"c":10},{"t":3,"d":4315.8,"c":4},{"t":3,"d":4316.8,"c":12},{"t":3,"d":4317.8,"c":5},{"t":3,"d":4318.8,"c":11},{"t":3,"d":4319.8,"c":12},{"t":3,"d":4320.6,"c":0},{"t":3,"d":4330,"c":-1},{"t":3,"d":4340,"c":0},{"t":3,"d":4350,"c":-1},{"t":3,"d":4360,"c":-2},{"t":3,"d":4370,"c":-1},{"t":3,"d":4380,"c":-2},{"t":3,"d":4390,"c":-1},{"t":3,"d":4400,"c":-1},{"t":3,"d":4410,"c":-2},{"t":3,"d":4420,"c":-1},{"t":3,"d":4430,"c":-2},{"t":3,"d":4440,"c":-1},{"t":3,"d":4450,"c":-2},{"t":3,"d":4460,"c":-1},{"t":3,"d":4470,"c":0},{"t":3,"d":4474,"c":0},{"t":3,"d":4475.4,"c":8},{"t":3,"d":4476.5,"c":0},{"t":3,"d":4485,"c":-1},{"t":3,"d":4495,"c":0},{"t":3,"d":4503,"c":-1},{"t":3,"d":4507,"c":0},{"t":3,"d":4508.2,"c":7},{"t":3,"d":4509.5,"c":0},{"t":3,"d":4510.2,"c":0},{"t":3,"d":4510.6,"c":-25},{"t":3,"d":4516.3,"c":-25},{"t":3,"d":4520,"c":-22},{"t":3,"d":4524,"c":-20},{"t":3,"d":4526.3,"c":-22},{"t":3,"d":4527,"c":-50},{"t":3,"d":4530,"c":-50},{"t":3,"d":4535,"c":-50}
    ]
  },
  "vconcat": [
    {
      "width": 673,
      "height": 103,
      "data": {"values": [{"a": 1}]},
      "layer": [
        {"mark": {"type": "rect", "fill": "#0A1F7E"},
         "encoding": {
           "x": {"datum": 4, "type": "quantitative", "scale": {"domain": [0, 673], "nice": false, "zero": false}, "axis": null},
           "x2": {"datum": 673},
           "y": {"datum": 4, "type": "quantitative", "scale": {"domain": [0, 103], "nice": false, "zero": false, "reverse": true}, "axis": null},
           "y2": {"datum": 103}}},
        {"mark": {"type": "rect", "fill": "#FFFF00"},
         "encoding": {
           "x": {"datum": 8.5, "type": "quantitative", "scale": {"domain": [0, 673], "nice": false, "zero": false}, "axis": null},
           "x2": {"datum": 159},
           "y": {"datum": 9, "type": "quantitative", "scale": {"domain": [0, 103], "nice": false, "zero": false, "reverse": true}, "axis": null},
           "y2": {"datum": 99}}},
        {"mark": {"type": "rect", "fill": "#FFFF00"},
         "encoding": {
           "x": {"datum": 163.5, "type": "quantitative", "scale": {"domain": [0, 673], "nice": false, "zero": false}, "axis": null},
           "x2": {"datum": 503.5},
           "y": {"datum": 9, "type": "quantitative", "scale": {"domain": [0, 103], "nice": false, "zero": false, "reverse": true}, "axis": null},
           "y2": {"datum": 99}}},
        {"mark": {"type": "rect", "fill": "#FFFF00"},
         "encoding": {
           "x": {"datum": 508.5, "type": "quantitative", "scale": {"domain": [0, 673], "nice": false, "zero": false}, "axis": null},
           "x2": {"datum": 673},
           "y": {"datum": 9, "type": "quantitative", "scale": {"domain": [0, 103], "nice": false, "zero": false, "reverse": true}, "axis": null},
           "y2": {"datum": 99}}},
        {"mark": {"type": "text", "font": "Liberation Serif", "fontWeight": "bold", "fontSize": 18, "color": "#333399", "lineBreak": "\n", "lineHeight": 23, "align": "center", "baseline": "middle"},
         "encoding": {
           "x": {"datum": 83, "type": "quantitative", "scale": {"domain": [0, 673], "nice": false, "zero": false}, "axis": null},
           "y": {"datum": 30, "type": "quantitative", "scale": {"domain": [0, 103], "nice": false, "zero": false, "reverse": true}, "axis": null},
           "text": {"value": "GR\nCurve"}}},
        {"mark": {"type": "text", "font": "Liberation Serif", "fontWeight": "bold", "fontSize": 18, "color": "#333399", "lineBreak": "\n", "lineHeight": 23, "align": "center", "baseline": "middle"},
         "encoding": {
           "x": {"datum": 332, "type": "quantitative", "scale": {"domain": [0, 673], "nice": false, "zero": false}, "axis": null},
           "y": {"datum": 30, "type": "quantitative", "scale": {"domain": [0, 103], "nice": false, "zero": false, "reverse": true}, "axis": null},
           "text": {"value": "Individual Pairs of 2-arm Caliper\nCurves"}}},
        {"mark": {"type": "text", "font": "Liberation Serif", "fontWeight": "bold", "fontSize": 18, "color": "#333399", "lineBreak": "\n", "lineHeight": 23, "align": "center", "baseline": "middle"},
         "encoding": {
           "x": {"datum": 591, "type": "quantitative", "scale": {"domain": [0, 673], "nice": false, "zero": false}, "axis": null},
           "y": {"datum": 30, "type": "quantitative", "scale": {"domain": [0, 103], "nice": false, "zero": false, "reverse": true}, "axis": null},
           "text": {"value": "BHA Run\nDescription"}}}
      ]
    },
    {
      "width": 673,
      "height": 1228,
      "resolve": {"scale": {"x": "independent", "color": "independent", "fill": "independent"}},
      "layer": [
        {"data": {"values": [{"a": 1}]},
         "mark": {"type": "rect", "fill": "#ffffff"},
         "encoding": {
           "x": {"datum": 0, "type": "quantitative", "scale": {"domain": [0, 673], "nice": false, "zero": false},
                 "axis": {"grid": true, "values": [64.3, 77.7, 91, 118.3, 131.7, 145, 158.3, 180, 193.3, 206.7, 233.3, 246.7, 260, 273.3, 293.3, 306.7, 320, 346.7, 360, 373.3, 386.7, 406.7, 420, 433.3, 461.7, 475, 488.3, 500], "gridColor": "#d6d6d6", "gridWidth": 1, "labels": false, "ticks": false, "domain": false, "title": null}},
           "x2": {"datum": 50.5},
           "y": {"datum": 3793.3, "type": "quantitative", "scale": {"domain": [3793.3, 4535], "reverse": true, "nice": false, "zero": false}, "axis": null},
           "y2": {"datum": 4535}}},
        {"data": {"name": "ten"},
         "mark": {"type": "rule", "color": "#d6d6d6", "strokeWidth": 1},
         "encoding": {
           "x": {"datum": 51, "type": "quantitative", "scale": {"domain": [0, 673], "nice": false, "zero": false}, "axis": null},
           "x2": {"datum": 503},
           "y": {"field": "d", "type": "quantitative", "scale": {"domain": [3793.3, 4535], "reverse": true, "nice": false, "zero": false}, "axis": null}}},
        {"data": {"name": "runs"},
         "mark": {"type": "rect"},
         "encoding": {
           "x": {"datum": 504, "type": "quantitative", "scale": {"domain": [0, 673], "nice": false, "zero": false},
                 "axis": {"grid": true, "values": [51, 166, 279, 394], "gridColor": "#777777", "gridWidth": 1.3, "labels": false, "ticks": false, "domain": false, "title": null}},
           "x2": {"datum": 670},
           "y": {"field": "top", "type": "quantitative", "scale": {"domain": [3793.3, 4535], "reverse": true, "nice": false, "zero": false}, "axis": null},
           "y2": {"field": "bot"},
           "fill": {"field": "run", "type": "nominal", "scale": {"domain": ["RUN# 5", "RUN# 7", "RUN# 8", "RUN# 9", "RUN# 10"], "range": ["#FFFF99", "#E2EFCB", "#FFFFFF", "#66FF66", "#CC99FF"]}, "legend": null}}},
        {"data": {"name": "fifty"},
         "mark": {"type": "rule", "color": "#555555", "strokeWidth": 1.2},
         "encoding": {
           "x": {"datum": 279, "type": "quantitative", "scale": {"domain": [0, 673], "nice": false, "zero": false},
                 "axis": {"grid": true, "values": [105, 220, 334, 448], "gridColor": "#333333", "gridDash": [3, 2], "gridWidth": 1, "labels": false, "ticks": false, "domain": false, "title": null}},
           "x2": {"datum": 394},
           "y": {"field": "d", "type": "quantitative", "scale": {"domain": [3793.3, 4535], "reverse": true, "nice": false, "zero": false}, "axis": null}}},
        {"data": {"name": "heavy"},
         "mark": {"type": "rule", "color": "#444444", "strokeWidth": 1.6},
         "encoding": {
           "x": {"datum": 46, "type": "quantitative", "scale": {"domain": [0, 673], "nice": false, "zero": false}, "axis": null},
           "x2": {"datum": 503},
           "y": {"field": "d", "type": "quantitative", "scale": {"domain": [3793.3, 4535], "reverse": true, "nice": false, "zero": false}, "axis": null}}},
        {"data": {"name": "depths"},
         "mark": {"type": "text", "font": "DejaVu Sans", "fontWeight": "bold", "fontSize": 7.5, "color": "#6a6a6a", "align": "center", "baseline": "middle"},
         "encoding": {
           "x": {"datum": 30, "type": "quantitative", "scale": {"domain": [0, 673], "nice": false, "zero": false}, "axis": null},
           "y": {"field": "d", "type": "quantitative", "scale": {"domain": [3793.3, 4535], "reverse": true, "nice": false, "zero": false}, "axis": null},
           "text": {"field": "d", "type": "quantitative", "format": "d"}}},
        {"data": {"name": "gr"},
         "mark": {"type": "line", "color": "#1FC21F", "strokeWidth": 1.4, "orient": "horizontal"},
         "encoding": {
           "x": {"field": "g", "type": "quantitative", "scale": {"domain": [0, 115], "range": [51, 166], "nice": false, "zero": false}, "axis": null},
           "y": {"field": "d", "type": "quantitative", "scale": {"domain": [3793.3, 4535], "reverse": true, "nice": false, "zero": false}, "axis": null},
           "order": {"field": "d", "type": "quantitative"}}},
        {"data": {"name": "aux"},
         "mark": {"type": "line", "color": "#2e2e2e", "strokeWidth": 1.2, "opacity": 0.85, "orient": "horizontal"},
         "encoding": {
           "x": {"field": "v", "type": "quantitative", "scale": {"domain": [0, 115], "range": [51, 166], "nice": false, "zero": false}, "axis": null},
           "y": {"field": "d", "type": "quantitative", "scale": {"domain": [3793.3, 4535], "reverse": true, "nice": false, "zero": false}, "axis": null},
           "order": {"field": "d", "type": "quantitative"}}},
        {"data": {"name": "cal"},
         "transform": [{"filter": "datum.t == 1"}],
         "mark": {"type": "area", "orient": "horizontal", "color": "#FFFF00"},
         "encoding": {
           "x": {"field": "c", "type": "quantitative", "scale": {"domain": [0, 57], "range": [220, 277], "clamp": true, "nice": false, "zero": false}, "axis": null},
           "x2": {"datum": 0},
           "y": {"field": "d", "type": "quantitative", "scale": {"domain": [3793.3, 4535], "reverse": true, "nice": false, "zero": false}, "axis": null}}},
        {"data": {"name": "cal"},
         "transform": [{"filter": "datum.t == 2"}],
         "mark": {"type": "area", "orient": "horizontal", "color": "#FFFF00"},
         "encoding": {
           "x": {"field": "c", "type": "quantitative", "scale": {"domain": [0, 57], "range": [334, 391], "clamp": true, "nice": false, "zero": false}, "axis": null},
           "x2": {"datum": 0},
           "y": {"field": "d", "type": "quantitative", "scale": {"domain": [3793.3, 4535], "reverse": true, "nice": false, "zero": false}, "axis": null}}},
        {"data": {"name": "cal"},
         "transform": [{"filter": "datum.t == 3"}],
         "mark": {"type": "area", "orient": "horizontal", "color": "#FFFF00"},
         "encoding": {
           "x": {"field": "c", "type": "quantitative", "scale": {"domain": [0, 57], "range": [448, 505], "clamp": true, "nice": false, "zero": false}, "axis": null},
           "x2": {"datum": 0},
           "y": {"field": "d", "type": "quantitative", "scale": {"domain": [3793.3, 4535], "reverse": true, "nice": false, "zero": false}, "axis": null}}},
        {"data": {"name": "cal"},
         "transform": [{"filter": "datum.t == 1"}],
         "mark": {"type": "line", "color": "#E01A1A", "strokeWidth": 1.3, "orient": "horizontal"},
         "encoding": {
           "x": {"field": "c", "type": "quantitative", "scale": {"domain": [-57, 57], "range": [163, 277], "nice": false, "zero": false}, "axis": null},
           "y": {"field": "d", "type": "quantitative", "scale": {"domain": [3793.3, 4535], "reverse": true, "nice": false, "zero": false}, "axis": null},
           "order": {"field": "d", "type": "quantitative"}}},
        {"data": {"name": "cal"},
         "transform": [{"filter": "datum.t == 2"}],
         "mark": {"type": "line", "color": "#E01A1A", "strokeWidth": 1.3, "orient": "horizontal"},
         "encoding": {
           "x": {"field": "c", "type": "quantitative", "scale": {"domain": [-57, 57], "range": [277, 391], "nice": false, "zero": false}, "axis": null},
           "y": {"field": "d", "type": "quantitative", "scale": {"domain": [3793.3, 4535], "reverse": true, "nice": false, "zero": false}, "axis": null},
           "order": {"field": "d", "type": "quantitative"}}},
        {"data": {"name": "cal"},
         "transform": [{"filter": "datum.t == 3"}],
         "mark": {"type": "line", "color": "#E01A1A", "strokeWidth": 1.3, "orient": "horizontal"},
         "encoding": {
           "x": {"field": "c", "type": "quantitative", "scale": {"domain": [-57, 57], "range": [391, 505], "nice": false, "zero": false}, "axis": null},
           "y": {"field": "d", "type": "quantitative", "scale": {"domain": [3793.3, 4535], "reverse": true, "nice": false, "zero": false}, "axis": null},
           "order": {"field": "d", "type": "quantitative"}}},
        {"data": {"name": "quality"},
         "transform": [{"filter": "datum.run == 5"}],
         "mark": {"type": "text", "font": "Liberation Sans", "fontWeight": "bold", "fontSize": 18.5, "lineBreak": "\n", "lineHeight": 23, "align": "left", "baseline": "middle"},
         "encoding": {
           "x": {"datum": 104, "type": "quantitative", "scale": {"domain": [0, 673], "nice": false, "zero": false}, "axis": null},
           "y": {"field": "d", "type": "quantitative", "scale": {"domain": [3793.3, 4535], "reverse": true, "nice": false, "zero": false}, "axis": null},
           "text": {"field": "label"},
           "color": {"field": "q", "type": "nominal", "scale": {"domain": ["Poor", "Fair", "Excellent"], "range": ["#FF0000", "#FF6600", "#2E9B6B"]}, "legend": null}}},
        {"data": {"name": "quality"},
         "transform": [{"filter": "datum.run >= 7 && datum.run <= 9"}],
         "mark": {"type": "text", "font": "Liberation Sans", "fontWeight": "bold", "fontSize": 18.5, "lineBreak": "\n", "lineHeight": 23, "align": "left", "baseline": "middle"},
         "encoding": {
           "x": {"datum": 97, "type": "quantitative", "scale": {"domain": [0, 673], "nice": false, "zero": false}, "axis": null},
           "y": {"field": "d", "type": "quantitative", "scale": {"domain": [3793.3, 4535], "reverse": true, "nice": false, "zero": false}, "axis": null},
           "text": {"field": "label"},
           "color": {"field": "q", "type": "nominal", "scale": {"domain": ["Poor", "Fair", "Excellent"], "range": ["#FF0000", "#FF6600", "#2E9B6B"]}, "legend": null}}},
        {"data": {"name": "quality"},
         "transform": [{"filter": "datum.run == 10"}],
         "mark": {"type": "text", "font": "Liberation Sans", "fontWeight": "bold", "fontSize": 18.5, "lineBreak": "\n", "lineHeight": 23, "align": "center", "baseline": "middle"},
         "encoding": {
           "x": {"datum": 134.5, "type": "quantitative", "scale": {"domain": [0, 673], "nice": false, "zero": false}, "axis": null},
           "y": {"field": "d", "type": "quantitative", "scale": {"domain": [3793.3, 4535], "reverse": true, "nice": false, "zero": false}, "axis": null},
           "text": {"field": "label"},
           "color": {"field": "q", "type": "nominal", "scale": {"domain": ["Poor", "Fair", "Excellent"], "range": ["#FF0000", "#FF6600", "#2E9B6B"]}, "legend": null}}},
        {"data": {"name": "runs"},
         "transform": [{"filter": "datum.run != 'RUN# 7'"}],
         "mark": {"type": "text", "font": "Liberation Sans", "fontWeight": "bold", "fontSize": 22, "color": "#13307F", "align": "center", "baseline": "middle"},
         "encoding": {
           "x": {"datum": 586.5, "type": "quantitative", "scale": {"domain": [0, 673], "nice": false, "zero": false}, "axis": null},
           "y": {"field": "td", "type": "quantitative", "scale": {"domain": [3793.3, 4535], "reverse": true, "nice": false, "zero": false}, "axis": null},
           "text": {"field": "run"}}},
        {"data": {"name": "runs"},
         "transform": [{"filter": "datum.run == 'RUN# 7'"}],
         "mark": {"type": "text", "font": "Liberation Sans", "fontWeight": "bold", "fontSize": 18, "color": "#13307F", "align": "center", "baseline": "middle"},
         "encoding": {
           "x": {"datum": 586.5, "type": "quantitative", "scale": {"domain": [0, 673], "nice": false, "zero": false}, "axis": null},
           "y": {"field": "td", "type": "quantitative", "scale": {"domain": [3793.3, 4535], "reverse": true, "nice": false, "zero": false}, "axis": null},
           "text": {"field": "run"}}},
        {"data": {"name": "runs"},
         "transform": [{"filter": "datum.run == 'RUN# 5' || datum.run == 'RUN# 7'"}],
         "mark": {"type": "text", "font": "Liberation Sans", "fontWeight": "bold", "fontSize": 13, "lineBreak": "\n", "lineHeight": 15.3, "color": "#13307F", "align": "center", "baseline": "middle"},
         "encoding": {
           "x": {"datum": 586.5, "type": "quantitative", "scale": {"domain": [0, 673], "nice": false, "zero": false}, "axis": null},
           "y": {"field": "dd", "type": "quantitative", "scale": {"domain": [3793.3, 4535], "reverse": true, "nice": false, "zero": false}, "axis": null},
           "text": {"field": "info"}}},
        {"data": {"name": "runs"},
         "transform": [{"filter": "datum.run != 'RUN# 5' && datum.run != 'RUN# 7'"}],
         "mark": {"type": "text", "font": "Liberation Sans", "fontWeight": "bold", "fontSize": 15, "lineBreak": "\n", "lineHeight": 18.8, "color": "#13307F", "align": "center", "baseline": "middle"},
         "encoding": {
           "x": {"datum": 586.5, "type": "quantitative", "scale": {"domain": [0, 673], "nice": false, "zero": false}, "axis": null},
           "y": {"field": "dd", "type": "quantitative", "scale": {"domain": [3793.3, 4535], "reverse": true, "nice": false, "zero": false}, "axis": null},
           "text": {"field": "info"}}},
        {"data": {"name": "breaks"},
         "mark": {"type": "rule", "color": "#0A1F7E", "strokeWidth": 4.5},
         "encoding": {
           "x": {"datum": 8, "type": "quantitative", "scale": {"domain": [0, 673], "nice": false, "zero": false},
                 "axis": {"grid": true, "values": [10, 504.5, 670.5], "gridColor": "#0A1F7E", "gridWidth": 4.5, "zindex": 1, "labels": false, "ticks": false, "domain": false, "title": null}},
           "x2": {"datum": 673},
           "y": {"field": "d", "type": "quantitative", "scale": {"domain": [3793.3, 4535], "reverse": true, "nice": false, "zero": false}, "axis": null}}}
      ]
    }
  ]
}
